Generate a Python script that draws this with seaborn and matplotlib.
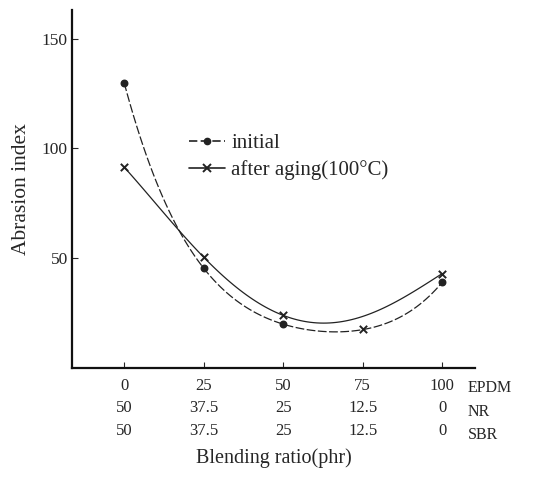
import pandas as pd
import matplotlib.pyplot as plt
import seaborn as sns

# blending ratio (EPDM / NR / SBR, phr)
epdm = [0, 25, 50, 75, 100]
nr = ["50", "37.5", "25", "12.5", "0"]
sbr = ["50", "37.5", "25", "12.5", "0"]

# curve values
initial_curve = [130, 45.5, 20, 17.5, 39]
aging_curve = [91.5, 50.5, 24, 23.5, 43]

# plotted markers
initial_x = [0, 25, 50, 100]
initial_y = [130, 45.5, 20, 39]
aging_x = [0, 25, 50, 75, 100]
aging_y = [91.5, 50.5, 24, 18, 43]

sns.set_style("ticks")
plt.rcParams['font.family'] = ['Liberation Serif', 'DejaVu Serif']

fig = plt.figure(figsize=(5.45, 4.78), dpi=100)
ax = fig.add_axes([0.132, 0.230, 0.740, 0.749])

df_i = pd.DataFrame({'x': epdm, 'y': initial_curve})
df_a = pd.DataFrame({'x': epdm, 'y': aging_curve})

# smooth fitted curves
sns.regplot(data=df_i, x='x', y='y', order=4, ci=None, scatter=False, ax=ax,
            truncate=True, line_kws=dict(color='#222222', lw=0.9, dashes=(7, 2)))
sns.regplot(data=df_a, x='x', y='y', order=4, ci=None, scatter=False, ax=ax,
            truncate=True, line_kws=dict(color='#222222', lw=0.9))

ax.scatter(initial_x, initial_y, marker='o', s=22, color='#222222', zorder=3)
ax.scatter(aging_x, aging_y, marker='x', s=28, color='#222222', linewidths=1.4, zorder=3)

ax.set_xlim(-16.4, 110.4)
ax.set_ylim(0, 163)
ax.set_yticks([50, 100, 150])
ax.set_yticklabels(["50", "100", "150"], fontsize=12.5)
ax.set_xticks(epdm)
ax.set_xticklabels([f"{a}\n{b}\n{c}" for a, b, c in zip(epdm, nr, sbr)],
                   fontsize=12, linespacing=1.55)
ax.tick_params(axis='y', direction='in', length=4, pad=3)
ax.tick_params(axis='x', direction='in', length=4, pad=7)
sns.despine(ax=ax)
for sp in ['left', 'bottom']:
    ax.spines[sp].set_linewidth(1.6)
    ax.spines[sp].set_color('#111111')

ax.text(108, -5.5, "EPDM\nNR\nSBR", fontsize=11.5, va='top', ha='left',
        linespacing=1.62, clip_on=False)

ax.set_ylabel("Abrasion index", fontsize=15.5, labelpad=8)
ax.set_xlabel("Blending ratio(phr)", fontsize=14.5, labelpad=7)

# legend drawn as in the figure
h1 = plt.Line2D([], [], color='#222222', lw=1.2, marker='o', ms=4.5, dashes=(5, 2))
h2 = plt.Line2D([], [], color='#222222', lw=1.2, marker='x', ms=5.5, mew=1.4)
ax.legend([h1, h2], ["initial", "after aging(100°C)"], loc='upper left',
          bbox_to_anchor=(0.245, 0.707), frameon=False, fontsize=15,
          handlelength=1.7, handletextpad=0.3, labelspacing=0.35)

fig.savefig("out.png", dpi=100)
